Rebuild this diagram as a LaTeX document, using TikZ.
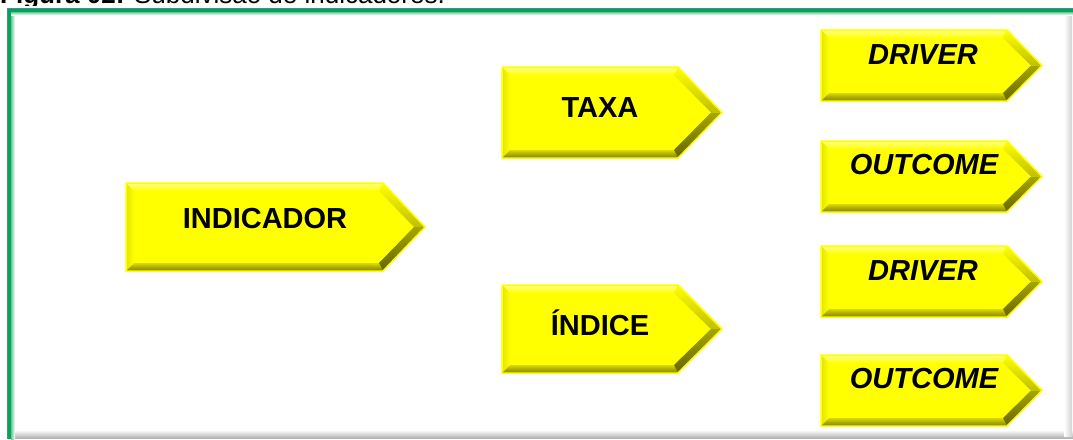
\documentclass[tikz,border=0pt]{standalone}
\usepackage{fontspec}
\setmainfont{Liberation Sans}
\definecolor{frgreen}{HTML}{00A651}
\definecolor{frblue}{HTML}{4F81BD}
\definecolor{yel}{HTML}{FFFF00}
\tikzset{
  lbl/.style={anchor=base, inner sep=0pt, font=\fontsize{29}{30}\selectfont\bfseries},
  ilbl/.style={lbl, font=\fontsize{29}{30}\selectfont\bfseries\itshape},
  rim/.style={draw=yel, line width=1.5pt, line join=miter}
}
\newcommand\bevarrow[6]{%
  \pgfmathsetmacro\ym{(#3+#6)/2}%
  \pgfmathsetmacro\xi{#2+8}%
  \pgfmathsetmacro\yi{#3+8}%
  \pgfmathsetmacro\yj{#6-8}%
  \pgfmathsetmacro\xai{#4-4}%
  \pgfmathsetmacro\xti{#5-11}%
  \fill[yel] (#2,#3) -- (#4,#3) -- (#5,\ym) -- (#4,#6) -- (#2,#6) -- cycle;
  \shade[top color=yellow!45!white, bottom color=yel] (#2,#3) -- (#4,#3) -- (\xai,\yi) -- (\xi,\yi) -- cycle;
  \shade[left color=yellow!90!black, right color=yel] (#2,#3) -- (\xi,\yi) -- (\xi,\yj) -- (#2,#6) -- cycle;
  \shade[top color=yellow!85!black, bottom color=yellow!50!black] (#2,#6) -- (\xi,\yj) -- (\xai,\yj) -- (#4,#6) -- cycle;
  \shade[top color=yel, bottom color=yellow!75!black] (#4,#3) -- (#5,\ym) -- (\xti,\ym) -- (\xai,\yi) -- cycle;
  \shade[top color=yellow!65!black, bottom color=yellow!40!black] (#5,\ym) -- (#4,#6) -- (\xai,\yj) -- (\xti,\ym) -- cycle;
  \draw[rim] (#2,#3) -- (#4,#3) -- (#5,\ym) -- (#4,#6) -- (#2,#6) -- cycle;
  \coordinate (#1) at ({(#2+#5)/2},\ym);
}
\begin{document}
\begin{tikzpicture}[x=1pt,y=-1pt]
\useasboundingbox (0,0) rectangle (1073,439);
\clip (0,0) rectangle (1073,439);
\fill[white] (0,0) rectangle (1073,439);
% caption (cut off at top, as in the reference)
\node[anchor=base west, inner sep=0pt, font=\fontsize{26}{30}\selectfont] (cap) at (0,4) {\textbf{Figura 02:} Subdivisão de indicadores.};
% frame shadows
\shade[top color=white, bottom color=black!30] (14,430) rectangle (1073,438);
\shade[left color=white, right color=black!18] (1064,12) rectangle (1072,436);
% frame lines
\fill[white] (6,6) rectangle (1073,8);
\fill[frblue] (7,7.5) rectangle (1073,8.5);
\fill[frblue] (6.5,8) rectangle (7.5,439);
\fill[frgreen] (7.5,8.5) rectangle (1073,12);
\fill[frgreen] (7.5,8.5) rectangle (11,439);
\shade[left color=frgreen!60!white, right color=white] (11,12) rectangle (15,439);
\shade[top color=frgreen!60!white, bottom color=white] (11,12) rectangle (1073,15);
% arrows
\bevarrow{aInd}{126}{183}{383}{425}{271}
\bevarrow{aTaxa}{502}{67}{678}{722}{158}
\bevarrow{aIndice}{502}{285}{678}{722}{373}
\bevarrow{aDr1}{821}{30}{1007}{1042}{101}
\bevarrow{aOut1}{821}{141}{1007}{1042}{212}
\bevarrow{aDr2}{821}{246}{1007}{1042}{317}
\bevarrow{aOut2}{821}{355}{1007}{1042}{426}
% labels
\node[lbl] (tInd) at (265,228) {INDICADOR};
\node[lbl] (tTaxa) at (600,117) {TAXA};
\node[lbl] (tIndice) at (600,335) {ÍNDICE};
\node[ilbl] (tDr1) at (923,64) {DRIVER};
\node[ilbl] (tOut1) at (924,174) {OUTCOME};
\node[ilbl] (tDr2) at (923,280) {DRIVER};
\node[ilbl] (tOut2) at (924,388) {OUTCOME};
\end{tikzpicture}
\end{document}
